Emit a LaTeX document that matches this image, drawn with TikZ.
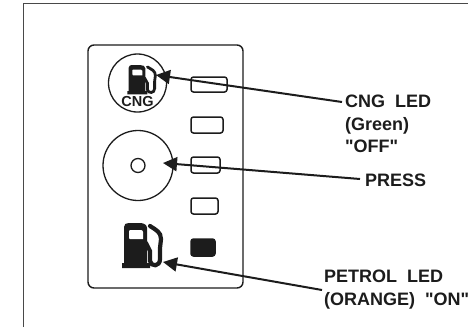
\documentclass[tikz,border=0pt]{standalone}
\usepackage{fontspec}
\setmainfont{Liberation Sans}
\newfontfamily\capfont{Liberation Sans}
\usetikzlibrary{arrows.meta}
\definecolor{ink}{gray}{0.11}
\tikzset{
  x=1pt,y=-1pt,
  frameline/.style={draw=ink!80,line width=1pt},
  panelline/.style={draw=ink,line width=1.4pt},
  led/.style={draw=ink,line width=1.5pt,rounded corners=2.5pt},
  ledon/.style={led,fill=ink},
  ring/.style={draw=ink,line width=1.3pt},
  pointer/.style={draw=ink,line width=2pt,-{Triangle[length=14pt,width=14pt]}},
  caption/.style={anchor=north west,inner sep=0pt,align=left,text=ink,font=\capfont\fontsize{18}{22.5}\selectfont\bfseries},
  pics/pump/.style={code={
    \fill[ink] (-1,45) -- (-1,40) -- (1,40) -- (1,4) .. controls (1,1) and (3,0) .. (6,0) -- (17,0)
      .. controls (21,0) and (24,2) .. (24,5) -- (24,40) -- (27,40) -- (27,45) -- cycle;
    \fill[white] (7,7) -- (18,7) .. controls (19,7) and (20,8) .. (20,9) -- (20,16) -- (7,16) .. controls (6,16) and (6,15) .. (6,14) -- (6,8) .. controls (6,7) and (6,7) .. (7,7) -- cycle;
    \draw[ink,line width=#1,line cap=round] (27,3) .. controls (33,7) and (38,9) .. (38,16)
      -- (37,25) -- (37,36) .. controls (37,44) and (28,44) .. (27,38) -- (27,28) -- (23,20);
  }}
}
\begin{document}
\begin{tikzpicture}
\useasboundingbox (0,0) rectangle (468,327);
% outer frame
\draw[frameline] (23.5,327) -- (23.5,3.5) -- (468,3.5);
% panel
\draw[panelline,rounded corners=6pt] (88,45) rectangle (243,288);
% LEDs
\draw[led] (191,77) rectangle (227,92);
\draw[led] (191,117) rectangle (223,133);
\draw[led] (191,157) rectangle (220,173);
\draw[led] (191,198) rectangle (218,214);
\draw[ledon] (191,239) rectangle (215,256);
% switches
\draw[ring] (137.5,83) circle[radius=29];
\draw[ring] (138,165.5) circle[radius=35];
\draw[ring] (138,165.5) circle[radius=7];
% pumps
\pic[xscale=0.72,yscale=0.65] at (128,65) {pump=2.8pt};
\pic at (123,223) {pump=4.2pt};
\node[inner sep=0pt,text=ink,font=\capfont\fontsize{14.5}{14.5}\selectfont\bfseries] (cngmark) at (137.5,102) {CNG};
% captions
\node[caption] (cnglabel) at (345,95) {CNG\ \ LED\\(Green)\\"OFF"};
\node[caption] (presslabel) at (365,173.5) {PRESS};
\node[caption] (petrollabel) at (324,270) {PETROL\ \ LED\\(ORANGE)\ \ "ON"};
% pointer ends
\coordinate (cngtip) at (156,75);
\coordinate (cngend) at (342,102);
\coordinate (presstip) at (163,163);
\coordinate (pressend) at (360,179);
\coordinate (petroltip) at (163,262);
\coordinate (petrolend) at (322,290);
\draw[pointer] (cngend) -- (cngtip);
\draw[pointer] (pressend) -- (presstip);
\draw[pointer] (petrolend) -- (petroltip);
\end{tikzpicture}
\end{document}
